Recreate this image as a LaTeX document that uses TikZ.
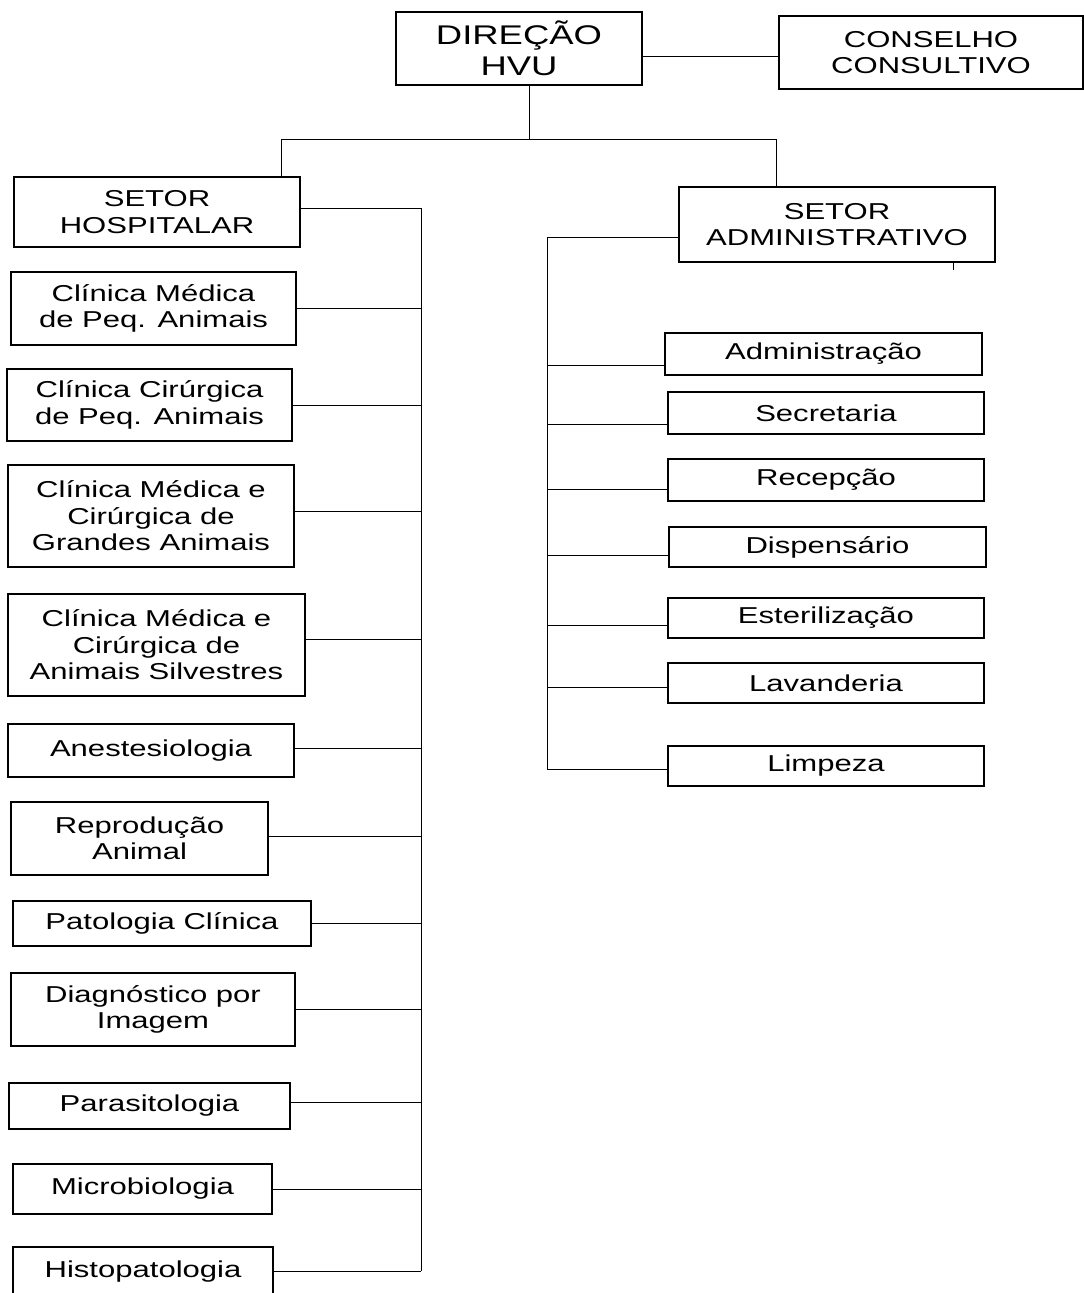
\documentclass[tikz,border=0pt]{standalone}
\usepackage{fontspec}
\setmainfont[FakeStretch=1.35]{Liberation Sans}
\usetikzlibrary{calc}

\begin{document}
\begin{tikzpicture}[x=1pt,y=-1pt,
  unitbox/.style={draw,line width=1.1pt,inner sep=0pt,align=center,font=\fontsize{23}{26.5}\selectfont},
  link/.style={line width=1pt}]
\useasboundingbox (0,0) rectangle (1084,1293);

% direção e conselho
\node[unitbox,minimum width=246,minimum height=73,font=\fontsize{27}{31}\selectfont] (dir) at (519,48.5) {DIREÇÃO\\HVU};
\node[unitbox,minimum width=304,minimum height=73] (cons) at (931,52.5) {CONSELHO\\CONSULTIVO};

% setores
\node[unitbox,minimum width=286,minimum height=70] (hosp) at (157,212) {SETOR\\HOSPITALAR};
\node[unitbox,minimum width=316,minimum height=75] (setadm) at (837,224.5) {SETOR\\ADMINISTRATIVO};

% setor hospitalar
\node[unitbox,minimum width=285,minimum height=73] (cmp) at (153.5,308.5) {Clínica Médica\\de Peq. Animais};
\node[unitbox,minimum width=285,minimum height=72] (ccp) at (149.5,405) {Clínica Cirúrgica\\de Peq. Animais};
\node[unitbox,minimum width=286,minimum height=102] (cmga) at (151,516) {Clínica Médica e\\Cirúrgica de\\Grandes Animais};
\node[unitbox,minimum width=297,minimum height=102] (cmas) at (156.5,645) {Clínica Médica e\\Cirúrgica de\\Animais Silvestres};
\node[unitbox,minimum width=286,minimum height=53] (anest) at (151,750.5) {Anestesiologia};
\node[unitbox,minimum width=257,minimum height=73] (repr) at (139.5,838.5) {Reprodução\\Animal};
\node[unitbox,minimum width=298,minimum height=45] (patc) at (162,923.5) {Patologia Clínica};
\node[unitbox,minimum width=284,minimum height=73] (diag) at (153,1009.5) {Diagnóstico por\\Imagem};
\node[unitbox,minimum width=281,minimum height=46] (paras) at (149.5,1106) {Parasitologia};
\node[unitbox,minimum width=259,minimum height=50] (micro) at (142.5,1189) {Microbiologia};
\node[unitbox,minimum width=260,minimum height=49] (histo) at (143,1271.5) {Histopatologia};

% setor administrativo
\node[unitbox,minimum width=317,minimum height=42] (adm) at (823.5,354) {Administração};
\node[unitbox,minimum width=316,minimum height=42] (sec) at (826,413) {Secretaria};
\node[unitbox,minimum width=316,minimum height=42] (rec) at (826,480) {Recepção};
\node[unitbox,minimum width=317,minimum height=40] (disp) at (827.5,547) {Dispensário};
\node[unitbox,minimum width=316,minimum height=40] (est) at (826,618) {Esterilização};
\node[unitbox,minimum width=316,minimum height=40] (lav) at (826,683) {Lavanderia};
\node[unitbox,minimum width=316,minimum height=40] (limp) at (826,766) {Limpeza};

% ligações do topo
\coordinate (tj) at (529,139);
\coordinate (hl) at (281,139);
\coordinate (hr) at (776,139);
\coordinate (tk) at (953,270);
\draw[link] (dir.south -| tj) -- (tj);
\draw[link] (hosp.north -| hl) -- (hl) -- (hr) -- (setadm.north -| hr);
\draw[link] ([yshift=-8pt]dir.east) coordinate (dc) -- (dc -| cons.west);
\draw[link] (setadm.south -| tk) -- (tk);

% barra do setor hospitalar
\coordinate (hbT) at (421,208);
\coordinate (hbB) at (421,1271);
\draw[link] (hbT) -- (hbB);
\draw[link] ([yshift=4pt]hosp.east) coordinate (h0) -- (h0 -| hbT);
\draw[link] (cmp.east) -- (cmp.east -| hbT);
\draw[link] (ccp.east) -- (ccp.east -| hbT);
\draw[link] ([yshift=5pt]cmga.east) coordinate (h3) -- (h3 -| hbT);
\draw[link] ([yshift=6pt]cmas.east) coordinate (h4) -- (h4 -| hbT);
\draw[link] ([yshift=2pt]anest.east) coordinate (h5) -- (h5 -| hbT);
\draw[link] ([yshift=2pt]repr.east) coordinate (h6) -- (h6 -| hbT);
\draw[link] (patc.east) -- (patc.east -| hbT);
\draw[link] (diag.east) -- (diag.east -| hbT);
\draw[link] ([yshift=4pt]paras.east) coordinate (h9) -- (h9 -| hbT);
\draw[link] (micro.east) -- (micro.east -| hbT);
\draw[link] (histo.east) -- (histo.east -| hbT);

% barra do setor administrativo
\coordinate (abT) at (547,237);
\coordinate (abB) at (547,769);
\draw[link] (setadm.west |- abT) -- (abT) -- (abB);
\draw[link] ([yshift=-11pt]adm.west) coordinate (a1) -- (a1 -| abT);
\draw[link] ([yshift=-11pt]sec.west) coordinate (a2) -- (a2 -| abT);
\draw[link] ([yshift=-9pt]rec.west) coordinate (a3) -- (a3 -| abT);
\draw[link] ([yshift=-8pt]disp.west) coordinate (a4) -- (a4 -| abT);
\draw[link] ([yshift=-7pt]est.west) coordinate (a5) -- (a5 -| abT);
\draw[link] ([yshift=-4pt]lav.west) coordinate (a6) -- (a6 -| abT);
\draw[link] ([yshift=-3pt]limp.west) coordinate (a7) -- (a7 -| abT);
\end{tikzpicture}
\end{document}
